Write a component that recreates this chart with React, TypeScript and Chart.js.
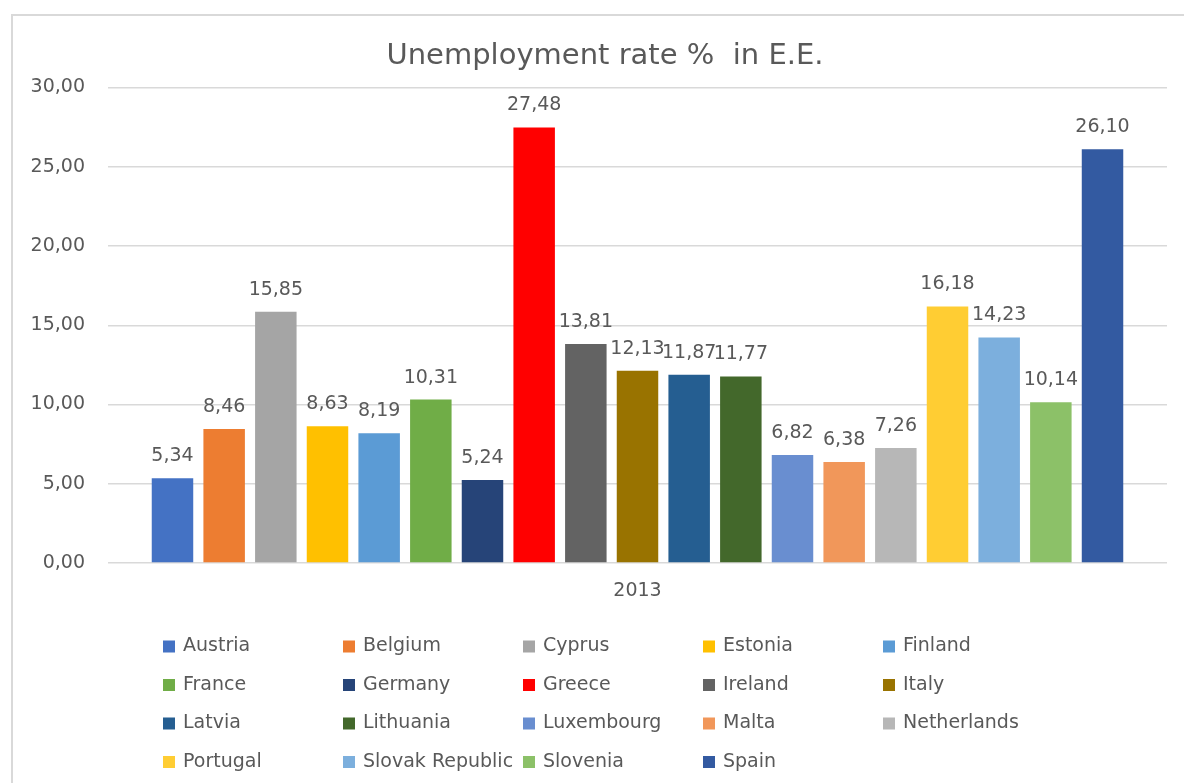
import React, { useEffect, useRef } from "react";
import { Chart, registerables } from "chart.js";

Chart.register(...registerables);

const TITLE = "Unemployment rate %  in E.E.";
const categories = ["2013"];
const countries = [
  "Austria", "Belgium", "Cyprus", "Estonia", "Finland",
  "France", "Germany", "Greece", "Ireland", "Italy",
  "Latvia", "Lithuania", "Luxembourg", "Malta", "Netherlands",
  "Portugal", "Slovak Republic", "Slovenia", "Spain",
];
const rates = [
  5.34, 8.46, 15.85, 8.63, 8.19,
  10.31, 5.24, 27.48, 13.81, 12.13,
  11.87, 11.77, 6.82, 6.38, 7.26,
  16.18, 14.23, 10.14, 26.10,
];
const colors = [
  "#4472C4", "#ED7D31", "#A5A5A5", "#FFC000", "#5B9BD5",
  "#70AD47", "#264478", "#FF0000", "#636363", "#997300",
  "#255E91", "#43682B", "#698ED0", "#F1975A", "#B7B7B7",
  "#FFCD33", "#7CAFDD", "#8CC168", "#335AA1",
];
const yMin = 0;
const yMax = 30;
const yStep = 5;

const FONT = "'DejaVu Sans', sans-serif";
const GRAY = "#595959";
const fmt = (v: number) => v.toFixed(2).replace(".", ",");

const titlePlugin = {
  id: "customTitle",
  afterDraw(chart: any) {
    const ctx = chart.ctx;
    ctx.save();
    ctx.font = `29px ${FONT}`;
    ctx.fillStyle = GRAY;
    ctx.textAlign = "center";
    ctx.textBaseline = "alphabetic";
    ctx.fillText(TITLE, 605, 64);
    ctx.restore();
  },
};

const valueLabels = {
  id: "valueLabels",
  afterDatasetsDraw(chart: any) {
    const ctx = chart.ctx;
    ctx.save();
    ctx.font = `19px ${FONT}`;
    ctx.fillStyle = GRAY;
    ctx.textAlign = "center";
    ctx.textBaseline = "middle";
    chart.data.datasets.forEach((ds: any, i: number) => {
      const meta = chart.getDatasetMeta(i);
      meta.data.forEach((bar: any, j: number) => {
        ctx.fillText(fmt(ds.data[j]), bar.x, bar.y - 22);
      });
    });
    ctx.restore();
  },
};

const gridLegend = {
  id: "gridLegend",
  afterDraw(chart: any) {
    const ctx = chart.ctx;
    ctx.save();
    ctx.font = `19px ${FONT}`;
    ctx.textAlign = "left";
    ctx.textBaseline = "middle";
    chart.data.datasets.forEach((ds: any, i: number) => {
      const col = i % 5;
      const row = Math.floor(i / 5);
      const x = 163 + col * 180;
      const y = 646.5 + row * 38.5;
      ctx.fillStyle = ds.backgroundColor;
      ctx.fillRect(x, y - 6, 12, 12);
      ctx.fillStyle = GRAY;
      ctx.fillText(ds.label, x + 20, y);
    });
    ctx.restore();
  },
};

export default function App() {
  const ref = useRef<HTMLCanvasElement | null>(null);

  useEffect(() => {
    if (!ref.current) return;
    const chart = new Chart(ref.current, {
      type: "bar",
      data: {
        labels: categories,
        datasets: countries.map((c, i) => ({
          label: c,
          data: [rates[i]],
          backgroundColor: colors[i],
          borderWidth: 0,
          barPercentage: 0.803,
          categoryPercentage: 0.927,
        })),
      },
      options: {
        responsive: false,
        animation: false,
        layout: { padding: { left: 12, right: 17, top: 87.5, bottom: 160 } },
        plugins: {
          legend: { display: false },
          title: { display: false },
          tooltip: { enabled: false },
        },
        scales: {
          x: {
            grid: { display: false },
            border: { display: false },
            ticks: { color: GRAY, font: { family: FONT, size: 19 }, padding: 9 },
            afterFit(scale: any) {
              scale.height = 60;
            },
          },
          y: {
            min: yMin,
            max: yMax,
            grid: { color: "#d9d9d9", lineWidth: 1.5, drawTicks: false },
            border: { display: false },
            ticks: {
              stepSize: yStep,
              color: GRAY,
              font: { family: FONT, size: 19 },
              padding: 23,
              callback: (v: any) => fmt(Number(v)),
            },
            afterFit(scale: any) {
              scale.width = 96;
            },
          },
        },
      },
      plugins: [titlePlugin, valueLabels, gridLegend],
    });
    return () => chart.destroy();
  }, []);

  return (
    <div style={{ position: "fixed", left: 0, top: 0, width: 1184, height: 783, overflow: "hidden", background: "#fff" }}>
      <div
        style={{
          position: "absolute",
          left: 11,
          top: 14,
          width: 1300,
          height: 900,
          border: "2px solid #d9d9d9",
          boxSizing: "border-box",
        }}
      />
      <canvas
        ref={ref}
        width={1184}
        height={783}
        style={{ position: "absolute", left: 0, top: 0, width: 1184, height: 783 }}
      />
    </div>
  );
}
